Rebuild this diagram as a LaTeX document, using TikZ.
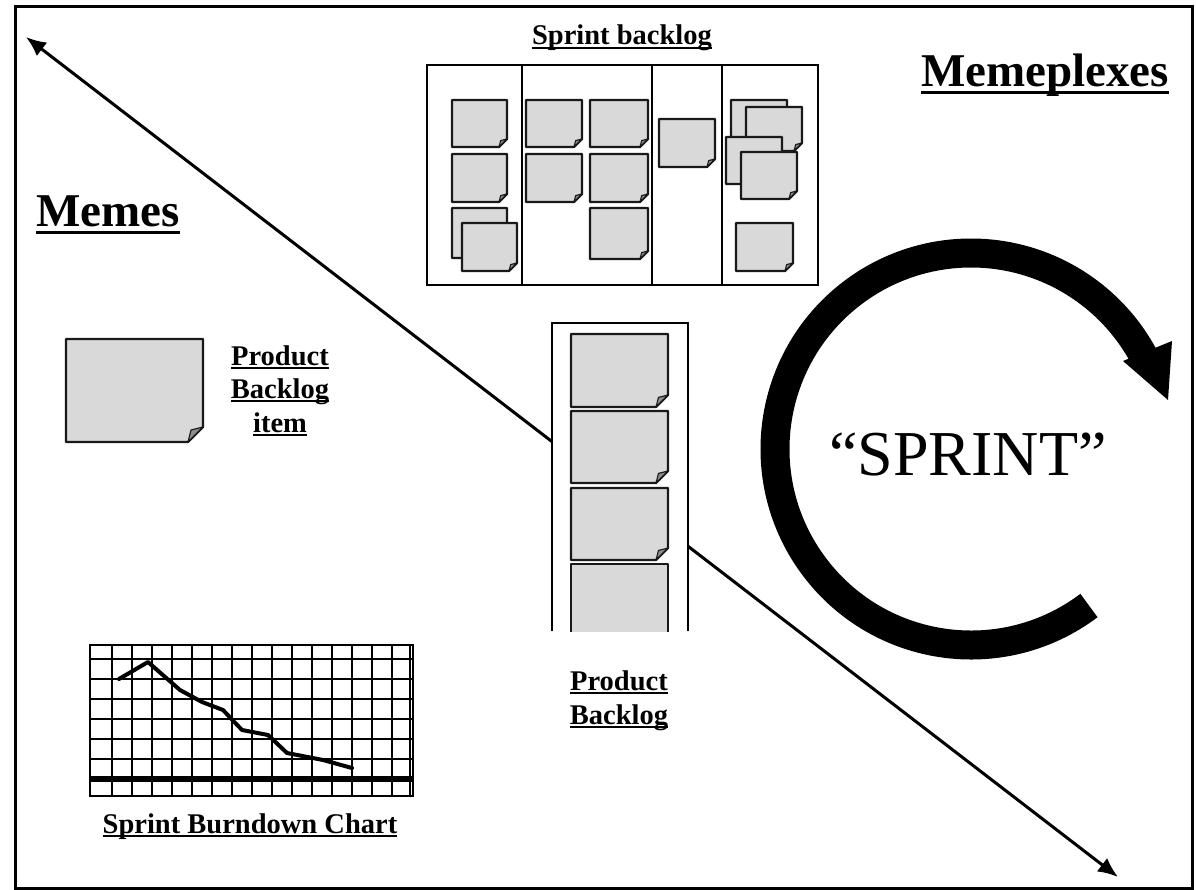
\documentclass[tikz,border=0pt]{standalone}
\usepackage{fontspec}
\setmainfont{Liberation Serif}
\usetikzlibrary{arrows.meta}
\newcommand{\myul}[1]{\setbox0=\hbox{#1}\rlap{\rule[-0.15em]{\wd0}{0.075em}}\box0}
\newcommand{\stickynote}[5]{%
  \filldraw[notestyle] (#1,#2) -- (#3,#2) -- (#3,#4-#5) -- (#3-#5,#4) -- (#1,#4) -- cycle;
  \filldraw[foldstyle] (#3-#5,#4) -- (#3,#4-#5) -- (#3-0.8*#5,#4-0.8*#5) -- cycle;}
\tikzset{
  notestyle/.style={fill={rgb,255:red,217;green,217;blue,217}, draw=black!90, line width=2.2pt, line join=round},
  foldstyle/.style={fill=black!45, draw=black!90, line width=1.1pt, line join=round},
  boardline/.style={draw=black, line width=1.8pt},
  gridline/.style={draw=black, line width=2pt},
  lbl/.style={inner sep=0pt, anchor=base, font=\fontsize{28.5}{34}\selectfont\bfseries},
  biglbl/.style={inner sep=0pt, anchor=base, font=\fontsize{47}{56}\selectfont\bfseries},
  bigarrow/.style={line width=3pt, {Latex[length=20pt,width=17pt]}-{Latex[length=20pt,width=17pt]}},
}
\begin{document}
\begin{tikzpicture}[x=1pt,y=-1pt]
\useasboundingbox (0,0) rectangle (1196,890);
\fill[white] (0,0) rectangle (1196,890);
% outer frame
\draw[line width=3pt] (15,7) rectangle (1192,888);

% diagonal double arrow
\coordinate (tl) at (26,37);
\coordinate (br) at (1118,877);
\draw[bigarrow] (tl) -- (br);

% titles
\node[biglbl] (memes) at (108,227) {\myul{Memes}};
\node[biglbl] (memeplexes) at (1045,87) {\myul{Memeplexes}};

% sprint backlog board
\node[lbl] (sbt) at (622,45) {\myul{Sprint backlog}};
\filldraw[boardline, fill=white] (427,65) rectangle (818,285);
\draw[boardline] (522,65) -- (522,285);
\draw[boardline] (652,65) -- (652,285);
\draw[boardline] (722,65) -- (722,285);
% column 1
\stickynote{452}{100}{507}{147}{8}
\stickynote{452}{154}{507}{202}{8}
\stickynote{452}{208}{507}{258}{8}
\stickynote{462}{223}{517}{271}{8}
% column 2
\stickynote{526}{100}{582}{147}{8}
\stickynote{526}{154}{582}{202}{8}
\stickynote{590}{100}{648}{147}{8}
\stickynote{590}{154}{648}{202}{8}
\stickynote{590}{208}{648}{259}{8}
% column 3
\stickynote{659}{119}{715}{167}{8}
% column 4
\stickynote{731}{100}{787}{148}{8}
\stickynote{746}{107}{802}{151}{8}
\stickynote{726}{137}{782}{184}{8}
\stickynote{741}{152}{797}{199}{8}
\stickynote{736}{223}{793}{271}{8}

% product backlog item
\stickynote{66}{339}{203}{442}{15}
\node[lbl] (pbi1) at (280,365) {\myul{Product}};
\node[lbl] (pbi2) at (280,398) {\myul{Backlog}};
\node[lbl] (pbi3) at (280,432) {\myul{item}};

% product backlog column
\filldraw[boardline, fill=white] (552,631) -- (552,323) -- (688,323) -- (688,631);
\stickynote{571}{334}{668}{407}{12}
\stickynote{571}{411}{668}{483}{12}
\stickynote{571}{488}{668}{560}{12}
\fill[fill={rgb,255:red,217;green,217;blue,217}] (571,564) rectangle (668,632);
\draw[draw=black!90, line width=2.2pt, line join=round] (571,632) -- (571,564) -- (668,564) -- (668,632);
\node[lbl] (pb1) at (619,690) {\myul{Product}};
\node[lbl] (pb2) at (619,724) {\myul{Backlog}};

% sprint burndown chart
\draw[gridline] (90,645) rectangle (413,796);
\foreach \x in {112,132,...,392} \draw[gridline] (\x,645) -- (\x,796);
\draw[gridline] (410,645) -- (410,796);
\foreach \y in {659,679,...,759} \draw[gridline] (90,\y) -- (413,\y);
\draw[line width=6pt] (90,779) -- (413,779);
\draw[line width=4pt, line join=round, line cap=round] (119,679) -- (148,662) -- (180,690) -- (202,702) -- (223,710) -- (242,730) -- (268,735) -- (287,753) -- (323,760) -- (352,768);
\node[lbl] (sbc) at (250,833) {\myul{Sprint Burndown Chart}};

% sprint cycle arrow
\draw[line width=29pt] (971,449) ++(53:196) arc[start angle=53, end angle=332, radius=196];
\fill (1123,361) -- (1172,341) -- (1168,400) -- cycle;
\node[inner sep=0pt, anchor=base, font=\fontsize{64}{70}\selectfont] (sprint) at (968,475) {``SPRINT''};
\end{tikzpicture}
\end{document}
